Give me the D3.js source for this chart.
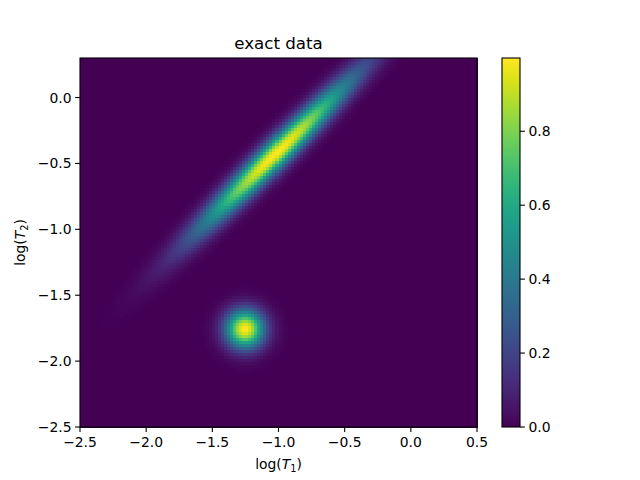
<!DOCTYPE html>
<html>
<head>
<meta charset="utf-8">
<script src="https://cdn.jsdelivr.net/npm/d3@7"></script>
<style>
  html, body { margin: 0; padding: 0; background: #fff; }
  svg { display: block; font-family: "DejaVu Sans", sans-serif; }
</style>
</head>
<body>
<svg id="chart" width="640" height="480"></svg>
<script>
// ---- data ----
const title = "exact data";
const xDomain = [-2.5, 0.5];
const yDomain = [-2.5, 0.3];
const xTicks = [-2.5, -2.0, -1.5, -1.0, -0.5, 0.0, 0.5];
const yTicks = [-2.5, -2.0, -1.5, -1.0, -0.5, 0.0];
const cTicks = [0.0, 0.2, 0.4, 0.6, 0.8];
// Gaussian components in log(T1), log(T2) space
const compCenterX = [-1.25, -1.02];
const compCenterY = [-1.75, -0.42];
const compSigmaAlong = [0.1, 0.56];   // along the 45-degree diagonal
const compSigmaAcross = [0.1, 0.068]; // across the diagonal
const compAmplitude = [1.0, 1.0];
const gridNx = 132;
const gridNy = 123;

// ---- layout ----
const svg = d3.select("#chart");
const plot = { left: 80, right: 477, top: 58, bottom: 427 };
const cbar = { left: 502, right: 520, top: 58, bottom: 427 };
const x = d3.scaleLinear().domain(xDomain).range([plot.left, plot.right]);
const y = d3.scaleLinear().domain(yDomain).range([plot.bottom, plot.top]);

// build field
const dx = (xDomain[1] - xDomain[0]) / gridNx;
const dy = (yDomain[1] - yDomain[0]) / gridNy;
const cells = [];
for (let j = 0; j < gridNy; j++) {
  for (let i = 0; i < gridNx; i++) {
    const cx = xDomain[0] + (i + 0.5) * dx;
    const cy = yDomain[0] + (j + 0.5) * dy;
    let v = 0;
    for (let k = 0; k < compCenterX.length; k++) {
      const ddx = cx - compCenterX[k], ddy = cy - compCenterY[k];
      const u = (ddx + ddy) / Math.SQRT2;
      const w = (ddy - ddx) / Math.SQRT2;
      v += compAmplitude[k] * Math.exp(-u * u / (2 * compSigmaAlong[k] ** 2) - w * w / (2 * compSigmaAcross[k] ** 2));
    }
    cells.push({ x0: xDomain[0] + i * dx, y0: yDomain[0] + j * dy, v });
  }
}
const vmax = d3.max(cells, d => d.v);
const color = d3.scaleSequential(d3.interpolateViridis).domain([0, vmax]);

svg.append("g").selectAll("rect").data(cells).join("rect")
  .attr("x", d => x(d.x0))
  .attr("y", d => y(d.y0 + dy))
  .attr("width", d => x(d.x0 + dx) - x(d.x0) + 0.5)
  .attr("height", d => y(d.y0) - y(d.y0 + dy) + 0.5)
  .attr("fill", d => color(d.v))
  .attr("shape-rendering", "crispEdges");

// frame
svg.append("rect")
  .attr("x", plot.left).attr("y", plot.top)
  .attr("width", plot.right - plot.left).attr("height", plot.bottom - plot.top)
  .attr("fill", "none").attr("stroke", "#000").attr("stroke-width", 1.1);

const fmt = d3.format(".1f");
const fontSize = "13.9px";

// x axis
const xa = svg.append("g");
xTicks.forEach(t => {
  xa.append("line").attr("x1", x(t)).attr("x2", x(t))
    .attr("y1", plot.bottom).attr("y2", plot.bottom + 4.9)
    .attr("stroke", "#000").attr("stroke-width", 1.1);
  xa.append("text").attr("x", x(t)).attr("y", plot.bottom + 19.5)
    .attr("text-anchor", "middle").attr("font-size", fontSize).text(fmt(t));
});
// y axis
const ya = svg.append("g");
yTicks.forEach(t => {
  ya.append("line").attr("x1", plot.left - 4.9).attr("x2", plot.left)
    .attr("y1", y(t)).attr("y2", y(t))
    .attr("stroke", "#000").attr("stroke-width", 1.1);
  ya.append("text").attr("x", plot.left - 8.5).attr("y", y(t) + 5)
    .attr("text-anchor", "end").attr("font-size", fontSize).text(fmt(t));
});

// axis labels
const xl = svg.append("text").attr("x", (plot.left + plot.right) / 2).attr("y", 469)
  .attr("text-anchor", "middle").attr("font-size", fontSize);
xl.append("tspan").text("log(");
xl.append("tspan").attr("font-style", "italic").text("T");
xl.append("tspan").attr("font-size", "9.7px").attr("dy", 2.5).text("1");
xl.append("tspan").attr("dy", -2.5).text(")");

const yl = svg.append("text")
  .attr("transform", `translate(25,${(plot.top + plot.bottom) / 2}) rotate(-90)`)
  .attr("text-anchor", "middle").attr("font-size", fontSize);
yl.append("tspan").text("log(");
yl.append("tspan").attr("font-style", "italic").text("T");
yl.append("tspan").attr("font-size", "9.7px").attr("dy", 2.5).text("2");
yl.append("tspan").attr("dy", -2.5).text(")");

// title
svg.append("text").attr("x", (plot.left + plot.right) / 2).attr("y", 49)
  .attr("text-anchor", "middle").attr("font-size", "16.7px").text(title);

// colorbar
const cy = d3.scaleLinear().domain([0, vmax]).range([cbar.bottom, cbar.top]);
const defs = svg.append("defs");
const grad = defs.append("linearGradient").attr("id", "cbgrad")
  .attr("x1", "0").attr("y1", "1").attr("x2", "0").attr("y2", "0");
d3.range(0, 1.0001, 1 / 32).forEach(s => {
  grad.append("stop").attr("offset", s).attr("stop-color", d3.interpolateViridis(s));
});
svg.append("rect").attr("x", cbar.left).attr("y", cbar.top)
  .attr("width", cbar.right - cbar.left).attr("height", cbar.bottom - cbar.top)
  .attr("fill", "url(#cbgrad)");
svg.append("rect").attr("x", cbar.left).attr("y", cbar.top)
  .attr("width", cbar.right - cbar.left).attr("height", cbar.bottom - cbar.top)
  .attr("fill", "none").attr("stroke", "#000").attr("stroke-width", 1.1);
cTicks.forEach(t => {
  svg.append("line").attr("x1", cbar.right).attr("x2", cbar.right + 4.9)
    .attr("y1", cy(t)).attr("y2", cy(t))
    .attr("stroke", "#000").attr("stroke-width", 1.1);
  svg.append("text").attr("x", cbar.right + 8.5).attr("y", cy(t) + 5)
    .attr("text-anchor", "start").attr("font-size", fontSize).text(fmt(t));
});
</script>
</body>
</html>
